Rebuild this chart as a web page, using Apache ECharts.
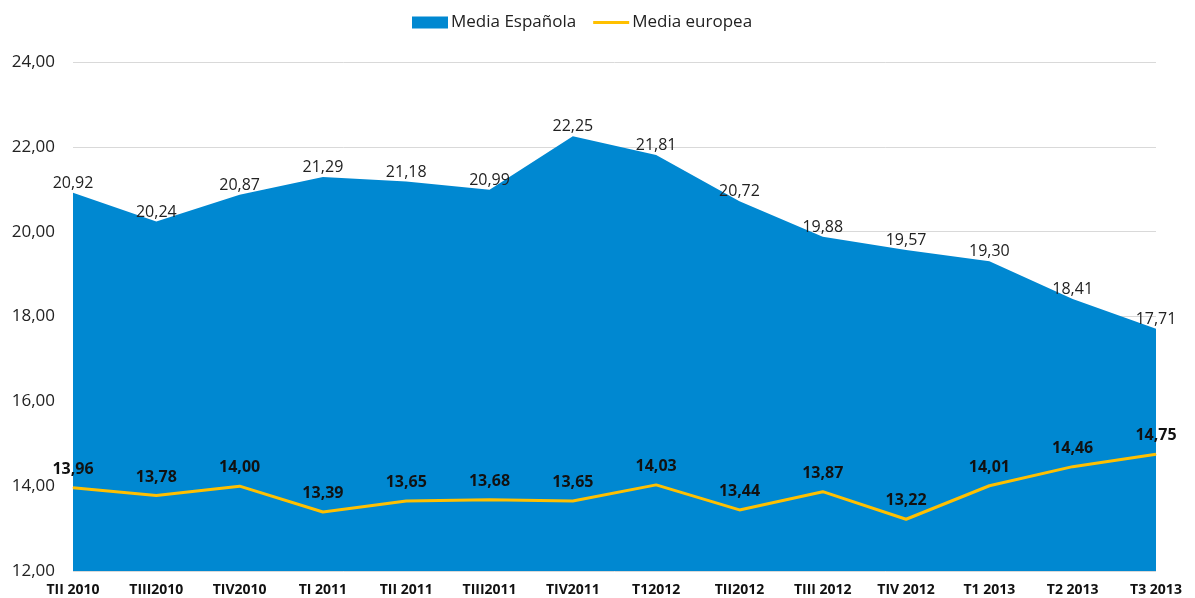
<!DOCTYPE html>
<html><head><meta charset="utf-8">
<script src="https://cdn.jsdelivr.net/npm/echarts@6/dist/echarts.min.js"></script>
<style>html,body{margin:0;padding:0;background:#fff}#c{width:1195px;height:598px}</style>
</head><body><div id="c"></div>
<script>
const categories = ['TII 2010','TIII2010','TIV2010','TI 2011','TII 2011','TIII2011','TIV2011','T12012','TII2012','TIII 2012','TIV 2012','T1 2013','T2 2013','T3 2013'];
const mediaEspanola = [20.92,20.24,20.87,21.29,21.18,20.99,22.25,21.81,20.72,19.88,19.57,19.30,18.41,17.71];
const mediaEuropea = [13.96,13.78,14.00,13.39,13.65,13.68,13.65,14.03,13.44,13.87,13.22,14.01,14.46,14.75];
const fmt = v => v.toFixed(2).replace('.', ',');
const FONT = '"Open Sans", "Noto Sans", sans-serif';
const BLUE = '#0088D1';
const chart = echarts.init(document.getElementById('c'));
chart.setOption({
  animation:false,
  textStyle:{fontFamily:FONT},
  legend:{top:9,left:407,itemGap:17,textStyle:{fontSize:17,color:'#222',fontFamily:FONT,padding:[0,0,0,-2]},
    symbolKeepAspect:true,
    data:[{name:'Media Española',icon:'rect',itemStyle:{color:BLUE,opacity:1,borderWidth:0}},
          {name:'Media europea',icon:'path://M0,0L36,0L36,3L0,3Z',itemStyle:{color:'#FFC000'},lineStyle:{width:0}}],
    itemWidth:36,itemHeight:12},
  grid:{left:73,right:39,top:62,bottom:27,containLabel:false},
  xAxis:{type:'category',data:categories,boundaryGap:false,
    axisLine:{show:false},axisTick:{show:false},
    axisLabel:{fontWeight:'bold',fontSize:14,color:'#111',margin:12,fontFamily:FONT}},
  yAxis:{type:'value',min:12,max:24,interval:2,
    axisLine:{show:false},axisTick:{show:false},
    splitLine:{lineStyle:{color:'#d9d9d9',width:1}},
    axisLabel:{formatter:v=>fmt(v),fontSize:17,color:'#222',margin:18,fontFamily:FONT}},
  series:[
    {name:'Media Española',type:'line',data:mediaEspanola,symbol:'circle',symbolSize:1,showSymbol:true,
      lineStyle:{width:0,color:BLUE},itemStyle:{color:'rgba(0,0,0,0)',borderWidth:0},
      areaStyle:{color:BLUE,opacity:1,origin:'start'},
      label:{show:true,position:'top',distance:1,formatter:p=>fmt(p.value),fontSize:16,color:'#222',fontFamily:FONT}},
    {name:'Media europea',type:'line',data:mediaEuropea,symbol:'circle',symbolSize:1,showSymbol:true,
      lineStyle:{width:3,color:'#FFC000'},itemStyle:{color:'#FFC000'},
      label:{show:true,position:'top',distance:10,formatter:p=>fmt(p.value),fontSize:16,fontWeight:'bold',color:'#111',fontFamily:FONT}}
  ]
});
</script></body></html>
